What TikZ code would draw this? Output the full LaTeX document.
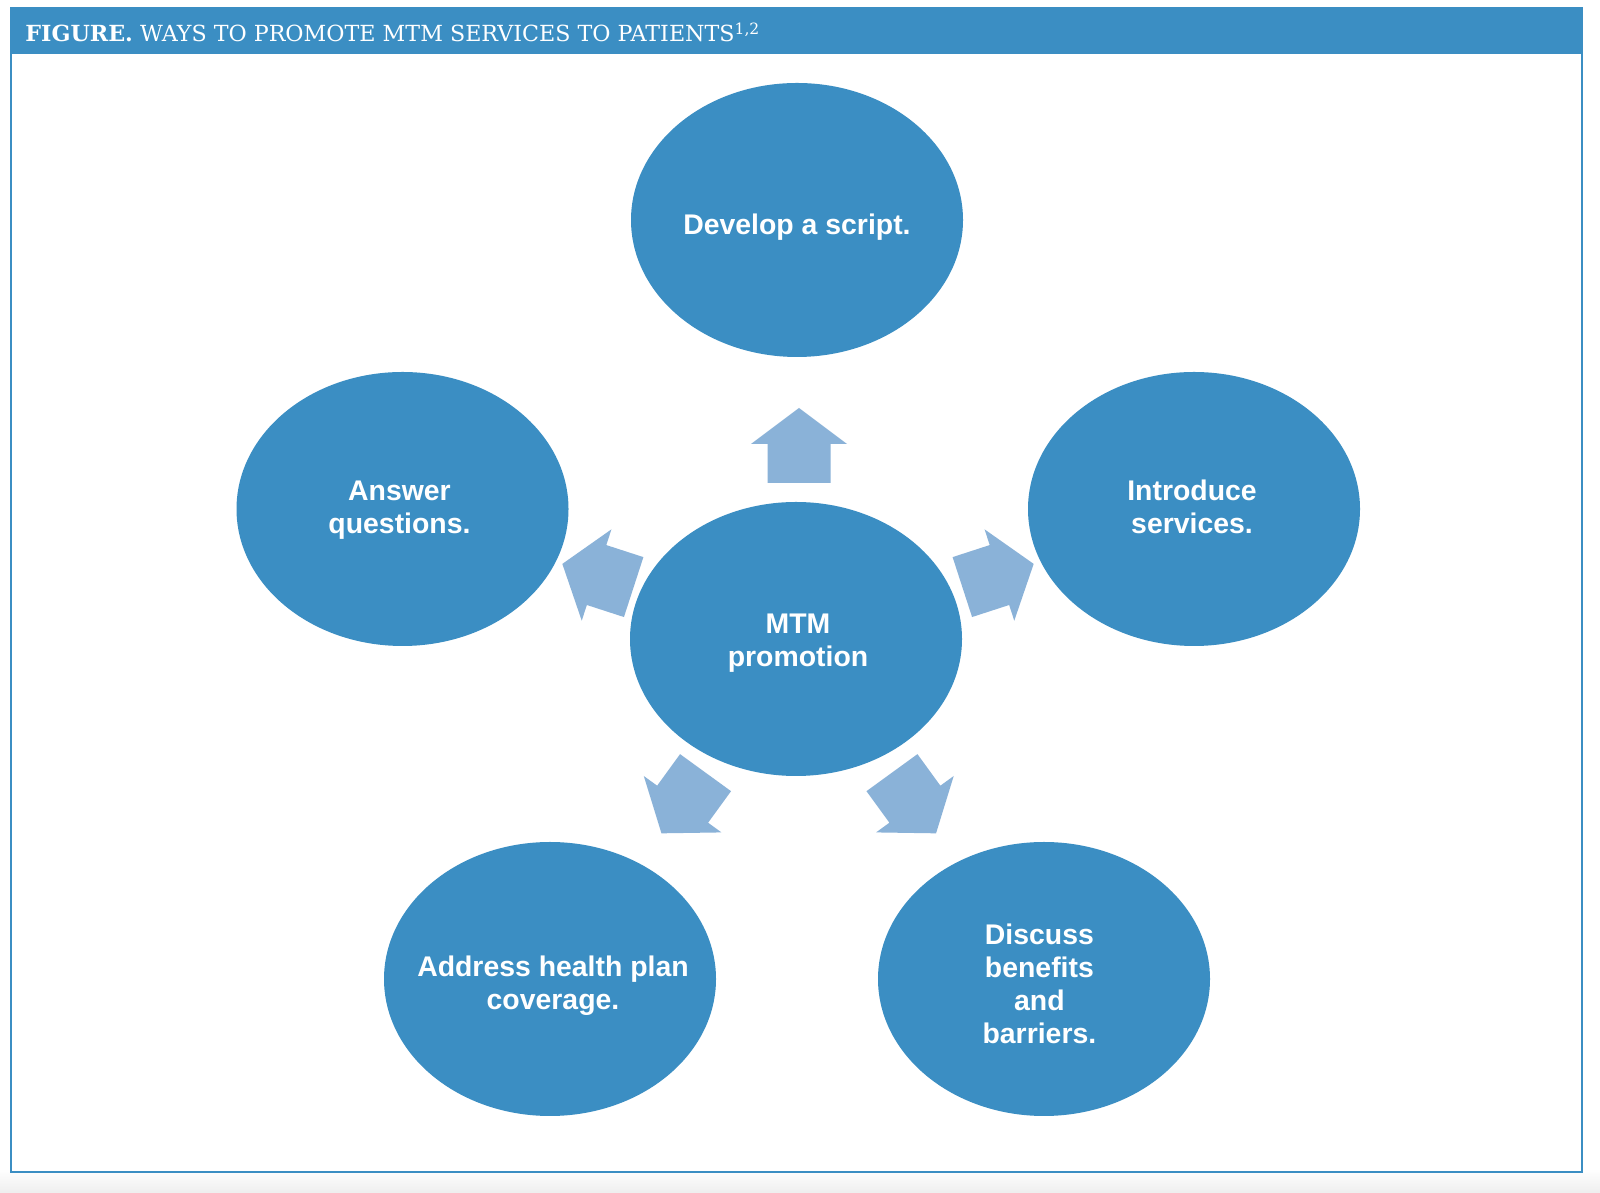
\documentclass[tikz,border=0pt]{standalone}
\usepackage{fontspec}
\setmainfont{Liberation Sans}
\newfontfamily\titlefont{DejaVu Serif}
\usetikzlibrary{shapes.geometric}
\definecolor{mtmblue}{RGB}{59,142,195}
\definecolor{arrowblue}{RGB}{138,178,216}
\definecolor{framegray}{RGB}{238,238,238}
\tikzset{
  bubble/.style={ellipse, fill=mtmblue, draw=none, minimum width=166pt, minimum height=137pt,
    inner sep=0pt},
  bubbletext/.style={text=white, font=\fontsize{14.2}{16.5}\selectfont\bfseries, align=center, inner sep=0pt},
  blockarrow/.style={fill=arrowblue},
}
\newcommand\blockarr[4]{%
  \fill[blockarrow, shift={(#2,#3)}, rotate=#4]
    (-37.5,-31.5) -- (1.5,-31.5) -- (1.5,-48) -- (37.5,0) -- (1.5,48) -- (1.5,31.5) -- (-37.5,31.5) -- cycle;
  \coordinate (#1) at (#2,#3);}
\begin{document}
\begin{tikzpicture}[x=0.5pt,y=0.5pt]
\useasboundingbox (0,0) rectangle (1600,1193);
\fill[white] (0,0) rectangle (1600,1193);
\shade[top color=white, bottom color=framegray] (0,0) rectangle (1600,24);
\fill[white] (10.7,21) rectangle (1582,1139);
\draw[mtmblue, line width=1pt] (10.7,1139) -- (10.7,21) -- (1582,21) -- (1582,1139);
\fill[mtmblue] (10,1139) rectangle (1583,1186);
\node[anchor=base west, text=white, font=\titlefont\fontsize{11.1}{12}\selectfont, inner sep=0pt]
  (title) at (25,1151) {\textbf{FIGURE.} WAYS TO PROMOTE MTM SERVICES TO PATIENTS\textsuperscript{1,2}};

\node[bubble] (center) at (796,554) {};
\node[bubble] (script) at (797,973) {};
\node[bubble] (answer) at (402.5,684) {};
\node[bubble] (intro) at (1194,684) {};
\node[bubble] (coverage) at (550,214) {};
\node[bubble] (discuss) at (1044,214) {};

\node[bubbletext] (centerT) at ([xshift=1pt,yshift=-2pt]center.center) {MTM\\promotion};
\node[bubbletext] (scriptT) at ([yshift=-3.5pt]script.center) {Develop a script.};
\node[bubbletext] (answerT) at ([xshift=-1.5pt,yshift=-0.5pt]answer.center) {Answer\\questions.};
\node[bubbletext] (introT) at ([xshift=-1pt,yshift=1pt]intro.center) {Introduce\\services.};
\node[bubbletext] (coverageT) at ([xshift=1.5pt,yshift=-3.5pt]coverage.center) {Address health plan\\coverage.};
\node[bubbletext] (discussT) at ([xshift=-2.3pt,yshift=-2.2pt]discuss.center) {Discuss\\benefits\\and\\barriers.};

\blockarr{a1}{799}{747.5}{90}
\blockarr{a2}{998}{617.5}{18}
\blockarr{a3}{598}{617.5}{162}
\blockarr{a4}{683.5}{390}{-126}
\blockarr{a5}{914}{390}{-54}
\end{tikzpicture}
\end{document}
